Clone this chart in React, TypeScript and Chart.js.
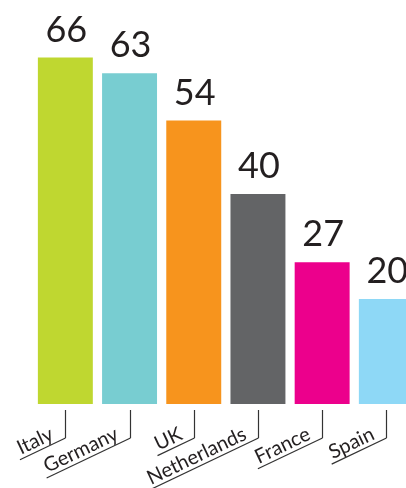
import { useEffect, useRef } from 'react';
import { Chart, registerables } from 'chart.js';

Chart.register(...registerables);

const categories: string[] = ['Italy', 'Germany', 'UK', 'Netherlands', 'France', 'Spain'];
const values: number[] = [66, 63, 54, 40, 27, 20];
const barColors: string[] = ['#bfd730', '#78cdd1', '#f7941d', '#636466', '#ec008c', '#8ed8f6'];

const CANVAS_W = 430;
const CANVAS_H = 488;

export default function App() {
  const ref = useRef<HTMLCanvasElement>(null);

  useEffect(() => {
    if (!ref.current) return;
    const labelPlugin = {
      id: 'customLabels',
      afterDatasetsDraw(chart: any) {
        const ctx = chart.ctx as CanvasRenderingContext2D;
        const meta = chart.getDatasetMeta(0);
        const xs = chart.scales.x;
        const area = chart.chartArea;
        ctx.save();
        ctx.fillStyle = '#231f20';
        ctx.font = '400 36px Lato';
        ctx.textAlign = 'center';
        ctx.textBaseline = 'alphabetic';
        meta.data.forEach((bar: any, i: number) => {
          ctx.fillText(String(values[i]), bar.x + 1, bar.y - 16);
        });
        const ang = (25.5 * Math.PI) / 180;
        ctx.font = '400 20px Lato';
        ctx.strokeStyle = '#333333';
        ctx.lineWidth = 1.2;
        categories.forEach((c, i) => {
          const x = Math.round(xs.getPixelForValue(i)) + 0.5;
          const y0 = area.bottom + 6;
          const y1 = area.bottom + 34;
          ctx.beginPath();
          ctx.moveTo(x, y0);
          ctx.lineTo(x, y1);
          ctx.stroke();
          ctx.save();
          ctx.translate(x, y1);
          ctx.rotate(-ang);
          const tw = ctx.measureText(c).width;
          ctx.beginPath();
          ctx.moveTo(0, 0);
          ctx.lineTo(-(tw + 13), 0);
          ctx.stroke();
          ctx.textAlign = 'right';
          ctx.textBaseline = 'alphabetic';
          ctx.fillText(c, -10, -4);
          ctx.restore();
        });
        ctx.restore();
      },
    };

    const chart = new Chart(ref.current, {
      type: 'bar',
      data: {
        labels: categories,
        datasets: [
          {
            data: values,
            backgroundColor: barColors,
            borderWidth: 0,
            barPercentage: 0.856,
            categoryPercentage: 1,
          },
        ],
      },
      options: {
        responsive: false,
        animation: false,
        layout: {
          padding: { left: 33.25, right: CANVAS_W - 418.45, top: 36.5, bottom: CANVAS_H - 404 },
        },
        scales: {
          x: { display: false, grid: { display: false } },
          y: { display: false, min: 0, max: 70, grid: { display: false } },
        },
        plugins: {
          legend: { display: false },
          tooltip: { enabled: false },
        },
      },
      plugins: [labelPlugin],
    });
    return () => chart.destroy();
  }, []);

  return (
    <div
      style={{
        position: 'absolute',
        left: 0,
        top: 0,
        width: 406,
        height: 488,
        overflow: 'hidden',
        background: '#ffffff',
      }}
    >
      <canvas ref={ref} width={CANVAS_W} height={CANVAS_H} style={{ display: 'block' }} />
    </div>
  );
}
